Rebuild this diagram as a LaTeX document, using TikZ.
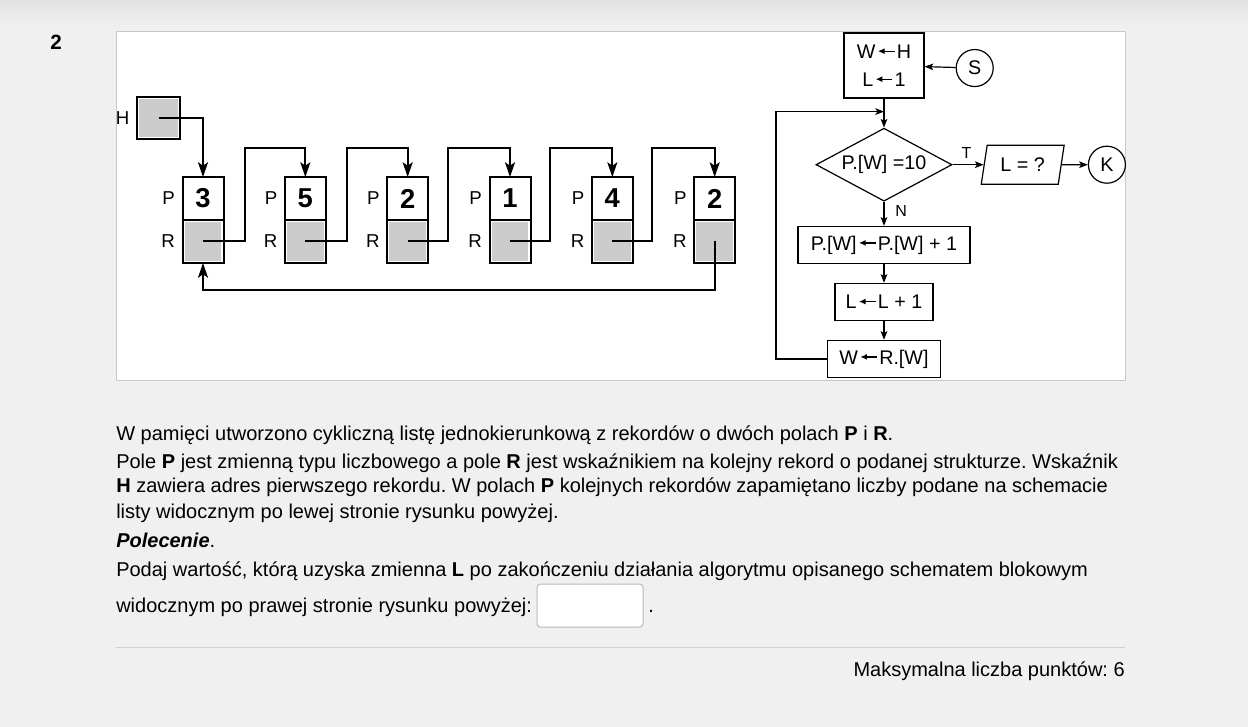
\documentclass[tikz,border=0pt]{standalone}
\usepackage{fontspec}
\setmainfont{Liberation Sans}
\definecolor{pagegray}{RGB}{240,240,240}
\definecolor{topgray}{RGB}{226,226,226}
\definecolor{framegray}{RGB}{200,200,200}
\definecolor{cellgray}{RGB}{204,204,204}
\definecolor{rulegray}{RGB}{208,208,208}
\definecolor{fieldgray}{RGB}{186,186,186}
\usetikzlibrary{shapes.geometric,arrows.meta,positioning,calc}

% small assignment arrow used inside the flowchart boxes
\newcommand{\asgn}{\hspace{1.2pt}\tikz[baseline=-0.36em]\draw[line width=1pt, -{Latex[length=5pt,width=4.5pt]}] (12.5pt,0pt) -- (0pt,0pt);\hspace{1.2pt}}

\begin{document}
\frenchspacing
\begin{tikzpicture}[x=0.75pt, y=-0.75pt, label distance=5.5pt]
    \tikzstyle{pcell} = [draw, line width=1.5pt, fill=white, rectangle, minimum width=30.75pt, minimum height=32.25pt, inner sep=0pt, outer sep=0pt, font=\fontsize{20.5}{22}\selectfont\bfseries]
    \tikzstyle{rcell} = [draw, line width=1.5pt, fill=white, rectangle, minimum width=30.75pt, minimum height=32.25pt, inner sep=0pt, outer sep=0pt, path picture={\fill[cellgray] ([shift={(1.6pt,-1.6pt)}]path picture bounding box.north west) rectangle ([shift={(-1.6pt,1.6pt)}]path picture bounding box.south east);}]
    \tikzstyle{lbl} = [font=\fontsize{14}{16}\selectfont, inner sep=0pt]
    \tikzstyle{link} = [draw, line width=1.5pt, -{Stealth[length=11pt, width=7.5pt, inset=2.5pt]}]
    \tikzstyle{instr} = [draw, line width=0.9pt, rectangle, minimum height=27.75pt, inner sep=0pt, font=\fontsize{14.8}{21}\selectfont]
    \tikzstyle{choice} = [draw, line width=0.9pt, diamond, aspect=1.86, minimum width=102pt, minimum height=54.75pt, inner sep=0pt, font=\fontsize{14.8}{17}\selectfont]
    \tikzstyle{io} = [draw, line width=0.9pt, trapezium, trapezium left angle=75, trapezium right angle=105, trapezium stretches=true, minimum width=62.25pt, minimum height=29.25pt, inner sep=0pt, font=\fontsize{14.8}{17}\selectfont]
    \tikzstyle{term} = [draw, line width=0.9pt, circle, minimum size=27.75pt, inner sep=0pt, font=\fontsize{14.8}{17}\selectfont]
    \tikzstyle{flow} = [draw, line width=0.9pt, -{Stealth[length=6.5pt, width=5pt, inset=1.5pt]}]
    \tikzstyle{txt} = [anchor=base west, inner sep=0pt, font=\fontsize{15}{17}\selectfont]

    % page
    \useasboundingbox (0,0) rectangle (1248,727);
    \fill [pagegray] (0,0) rectangle (1248,727);
    \shade [top color=topgray, bottom color=pagegray] (0,0) rectangle (1248,28);
    \node [font=\fontsize{15.5}{18}\selectfont\bfseries] (qnum) at (56,42.5) {2};
    \draw [framegray, fill=white, line width=0.75pt] (116,32) rectangle (1125,380);

    % cyclic list
    \node [rcell, minimum width=32.25pt, minimum height=31.5pt, label={[lbl]left:H}] (head) at (158.5,118) {};
    \node [pcell, label={[lbl]left:P}] (p1) at (203,198.5) {3};
    \node [rcell, label={[lbl]left:R}, below=0pt of p1] (r1) {};
    \node [pcell, label={[lbl]left:P}, right=46pt of p1] (p2) {5};
    \node [rcell, label={[lbl]left:R}, below=0pt of p2] (r2) {};
    \node [pcell, label={[lbl]left:P}, right=46pt of p2] (p3) {2};
    \node [rcell, label={[lbl]left:R}, below=0pt of p3] (r3) {};
    \node [pcell, label={[lbl]left:P}, right=46pt of p3] (p4) {1};
    \node [rcell, label={[lbl]left:R}, below=0pt of p4] (r4) {};
    \node [pcell, label={[lbl]left:P}, right=46pt of p4] (p5) {4};
    \node [rcell, label={[lbl]left:R}, below=0pt of p5] (r5) {};
    \node [pcell, label={[lbl]left:P}, right=46pt of p5] (p6) {2};
    \node [rcell, label={[lbl]left:R}, below=0pt of p6] (r6) {};

    \path [link] (head.center) -| (p1.north);
    \path [link] (r1.center) -- ($(r1.east)+(15.75pt,0)$) |- ($(p2.north)+(0,21.75pt)$) -- (p2.north);
    \path [link] (r2.center) -- ($(r2.east)+(15.75pt,0)$) |- ($(p3.north)+(0,21.75pt)$) -- (p3.north);
    \path [link] (r3.center) -- ($(r3.east)+(15pt,0)$) |- ($(p4.north)+(0,21.75pt)$) -- (p4.north);
    \path [link] (r4.center) -- ($(r4.east)+(14.25pt,0)$) |- ($(p5.north)+(0,21.75pt)$) -- (p5.north);
    \path [link] (r5.center) -- ($(r5.east)+(14.25pt,0)$) |- ($(p6.north)+(0,21.75pt)$) -- (p6.north);
    % back to the first record
    \path [link] (r6.center) -- ($(r6.south)+(0,-20.25pt)$) -| (r1.south);

    % flowchart
    \node [instr, minimum width=60pt, minimum height=48.75pt, align=center] (init) at (884,65.5) {W\asgn H\\L\asgn 1};
    \node [term, right=23.25pt of init, yshift=-1.9pt] (s) {S};
    \node [choice, below=21.75pt of init] (test) {P.[W] =10};
    \node [io, right=23.25pt of test] (res) {L = ?};
    \node [term, right=19.5pt of res] (k) {K};
    \node [instr, minimum width=129pt, below=18pt of test] (inc) {P.[W]\asgn P.[W] + 1};
    \node [instr, minimum width=73.5pt, below=14.1pt of inc] (cnt) {L\asgn L + 1};
    \node [instr, minimum width=84.75pt, below=14.1pt of cnt] (move) {W\asgn R.[W]};

    \path [flow] (s) -- (init);
    \path [flow] (init) -- (test);
    \path [flow] (test) -- node[above, pos=0.45, font=\fontsize{12}{14}\selectfont, inner sep=4.5pt] {T} (res);
    \path [flow] (res) -- (k);
    \path [flow] (test) -- node[right, pos=0.4, font=\fontsize{12}{14}\selectfont, inner sep=8pt] {N} (inc);
    \path [flow] (inc) -- (cnt);
    \path [flow] (cnt) -- (move);
    \path [flow] (move.west) -- ++(-38.25pt,0) |- ($(init.south)+(0,-9.75pt)$);

    % task text
    \node [txt] (t1) at (116,440.7) {W pamięci utworzono cykliczną listę jednokierunkową z rekordów o dwóch polach \textbf{P} i \textbf{R}.};
    \node [txt] (t2) at (116,468.3) {Pole \textbf{P} jest zmienną typu liczbowego a pole \textbf{R} jest wskaźnikiem na kolejny rekord o podanej strukturze. Wskaźnik};
    \node [txt] (t3) at (116,492.7) {\textbf{H} zawiera adres pierwszego rekordu. W polach \textbf{P} kolejnych rekordów zapamiętano liczby podane na schemacie};
    \node [txt] (t4) at (116,518.3) {listy widocznym po lewej stronie rysunku powyżej.};
    \node [txt] (t5) at (116,547.7) {\textbf{\textit{Polecenie}}.};
    \node [txt] (t6) at (116,576) {Podaj wartość, którą uzyska zmienna \textbf{L} po zakończeniu działania algorytmu opisanego schematem blokowym};
    \node [txt] (t7) at (116,612.7) {widocznym po prawej stronie rysunku powyżej:};
    \node [draw=fieldgray, fill=white, rounded corners=2.5pt, line width=0.75pt, minimum width=79.5pt, minimum height=32.25pt] (answer) at (590,605.5) {};
    \node [txt] (dot) at (648,612.7) {.};

    \draw [rulegray, line width=0.75pt] (116,647.5) -- (1125,647.5);
    \node [anchor=base east, inner sep=0pt, font=\fontsize{15}{18}\selectfont] (pts) at (1125,676) {Maksymalna liczba punktów: 6};
\end{tikzpicture}
\end{document}
